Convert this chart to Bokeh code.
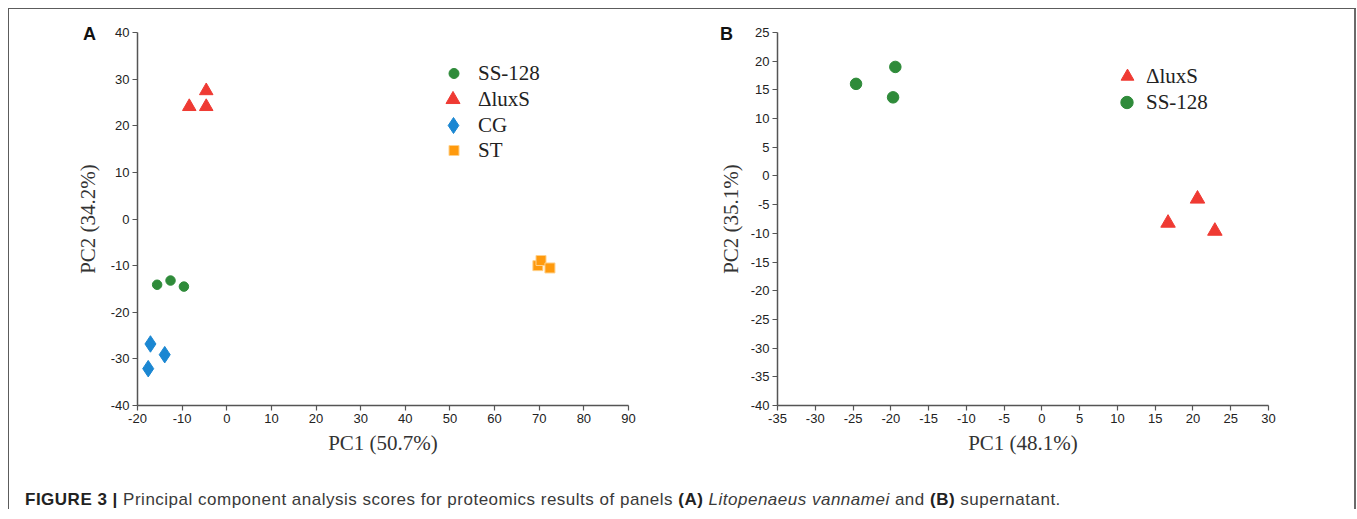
from bokeh.plotting import figure
from bokeh.layouts import column, row
from bokeh.models import Range1d, FixedTicker, Legend, LegendItem, Div, Spacer
from bokeh.embed import file_html
from bokeh.resources import INLINE

# ---------------- data ----------------
# Panel A (Litopenaeus vannamei)
A_ss128_x = [-15.6, -12.6, -9.6]
A_ss128_y = [-14.1, -13.2, -14.5]
A_luxs_x = [-8.4, -4.6, -4.6]
A_luxs_y = [24.1, 24.1, 27.5]
A_cg_x = [-17.1, -13.9, -17.6]
A_cg_y = [-26.8, -29.1, -32.1]
A_st_x = [69.7, 70.4, 72.4]
A_st_y = [-10.0, -8.9, -10.5]
A_xticks = list(range(-20, 91, 10))
A_yticks = list(range(-40, 41, 10))
A_xlabel = "PC1 (50.7%)"
A_ylabel = "PC2 (34.2%)"

# Panel B (supernatant)
B_luxs_x = [20.6, 16.7, 22.9]
B_luxs_y = [-4.0, -8.2, -9.6]
B_ss128_x = [-24.6, -19.4, -19.7]
B_ss128_y = [16.05, 19.0, 13.7]
B_xticks = list(range(-35, 31, 5))
B_yticks = list(range(-40, 26, 5))
B_xlabel = "PC1 (48.1%)"
B_ylabel = "PC2 (35.1%)"

GREEN = "#2f8b3a"
RED = "#ef3a33"
BLUE = "#1b87d2"
ORANGE = "#ff9a0d"
FRAME = "#5c5c5c"

SERIF = "Liberation Serif"
SANS = "Liberation Sans"


def make_fig(width, xr, yr, xticks, yticks, xlabel, ylabel, mbl, mbr, lab_standoff_y):
    p = figure(width=width, height=470, x_range=Range1d(*xr), y_range=Range1d(*yr),
               output_backend="svg", toolbar_location=None,
               min_border_left=mbl, min_border_right=mbr,
               min_border_top=23, min_border_bottom=74)
    p.grid.visible = False
    p.outline_line_color = None
    p.background_fill_color = "white"
    p.border_fill_color = "white"
    for ax, ticks, lab in ((p.xaxis[0], xticks, xlabel), (p.yaxis[0], yticks, ylabel)):
        ax.ticker = FixedTicker(ticks=ticks)
        ax.major_label_overrides = {t: str(t) for t in ticks}
        ax.minor_tick_line_color = None
        ax.major_tick_in = 0
        ax.major_tick_out = 5
        ax.axis_line_color = "#555555"
        ax.axis_line_width = 1.5
        ax.major_tick_line_color = "#555555"
        ax.major_tick_line_width = 1.2
        ax.major_label_text_font = SANS
        ax.major_label_text_font_size = "13px"
        ax.major_label_text_color = "#222222"
        ax.axis_label = lab
        ax.axis_label_text_font = SERIF
        ax.axis_label_text_font_style = "normal"
        ax.axis_label_text_font_size = "21px"
        ax.axis_label_text_color = "#333333"
    p.xaxis.major_label_standoff = 3
    p.yaxis.major_label_standoff = 3
    p.xaxis.axis_label_standoff = 5
    p.yaxis.axis_label_standoff = lab_standoff_y
    return p


def add_legend(p, r, label, xc, yc, size, text_x, frame_left, frame_bottom):
    # xc, yc, text_x are canvas pixel positions of the legend marker centre / text start
    gw = int(round(size / 0.4))
    standoff = int(round(text_x - xc - gw / 2))
    lg = Legend(items=[LegendItem(label=label, renderers=[r])],
                location=(int(round(xc - gw / 2 - frame_left)), int(round(frame_bottom - (yc + 20)))),
                glyph_width=gw, glyph_height=40, label_standoff=standoff,
                padding=0, margin=0, spacing=0,
                border_line_color=None, background_fill_alpha=0,
                label_text_font=SERIF, label_text_font_size="21px",
                label_text_color="#222222", label_height=40)
    p.add_layout(lg)


# ---------------- Panel A ----------------
pA = make_fig(691, (-20, 90), (-40, 40), A_xticks, A_yticks, A_xlabel, A_ylabel, 128, 72, 8)
rA1 = pA.scatter(A_ss128_x, A_ss128_y, marker="circle", size=9.5, color=GREEN)
rA2 = pA.scatter(A_luxs_x, A_luxs_y, marker="triangle", size=13.5, color=RED)
rA3 = pA.scatter(A_cg_x, A_cg_y, marker="diamond", size=16.5, color=BLUE)
rA4 = pA.scatter(A_st_x, A_st_y, marker="square", size=10, fill_color=ORANGE,
                 line_color="#ffd08a", line_width=1)
FA_left, FA_bottom = 128, 396
add_legend(pA, rA1, "SS-128", 444, 64, 10, 469, FA_left, FA_bottom)
add_legend(pA, rA2, "\u0394luxS", 444, 90, 14, 469, FA_left, FA_bottom)
add_legend(pA, rA3, "CG", 444, 116, 16, 469, FA_left, FA_bottom)
add_legend(pA, rA4, "ST", 444, 141, 10, 469, FA_left, FA_bottom)

# ---------------- Panel B ----------------
pB = make_fig(654, (-35, 30), (-40, 25), B_xticks, B_yticks, B_xlabel, B_ylabel, 77, 86, 5)
rB1 = pB.scatter(B_luxs_x, B_luxs_y, marker="triangle", size=14.5, color=RED)
rB2 = pB.scatter(B_ss128_x, B_ss128_y, marker="circle", size=11.5, color=GREEN)
FB_left, FB_bottom = 77, 396
add_legend(pB, rB1, "\u0394luxS", 427, 67, 13, 446, FB_left, FB_bottom)
add_legend(pB, rB2, "SS-128", 427, 93, 12.5, 446, FB_left, FB_bottom)

# ---------------- caption (also carries the panel letters A / B) ----------------
letter_css = ("position:absolute;font-family:'Liberation Sans';font-weight:bold;"
              "font-size:18px;line-height:20px;color:#111;")
cap_html = (
    '<div style="position:relative;height:0;width:0">'
    f'<span style="{letter_css}left:74px;top:-455px">A</span>'
    f'<span style="{letter_css}left:711px;top:-455px">B</span>'
    '</div>'
    '<div style="position:relative;top:11px;left:16px;font-family:\'Liberation Sans\';'
    'font-size:17px;line-height:20px;letter-spacing:0.5px;color:#3a3a3a;white-space:nowrap">'
    '<b style="color:#222">FIGURE 3 |</b> Principal component analysis scores for proteomics results of panels '
    '<b style="color:#222">(A)</b> <i>Litopenaeus vannamei</i> and <b style="color:#222">(B)</b> supernatant.</div>'
)
cap = Div(text=cap_html, width=1345, height=30, margin=0,
          styles={"overflow": "visible", "z-index": "10"})

# ---------------- frame (top, left and right rules; bottom is cut off) ----------------
top_rule = Div(text="", width=1348, height=1, margin=0, styles={"background-color": FRAME})
left_rule = Div(text="", width=1, height=500, margin=0, styles={"background-color": FRAME})
right_rule = Div(text="", width=2, height=500, margin=0, styles={"background-color": "#6a6a6a"})

inner = column(row(pA, pB, spacing=0), cap, spacing=0)
layout = column(
    Spacer(width=10, height=8),
    row(Spacer(width=8, height=1), top_rule, spacing=0),
    row(Spacer(width=8, height=500), left_rule, inner, right_rule, spacing=0),
    spacing=0,
)

open("out.html", "w").write(file_html(layout, INLINE))
